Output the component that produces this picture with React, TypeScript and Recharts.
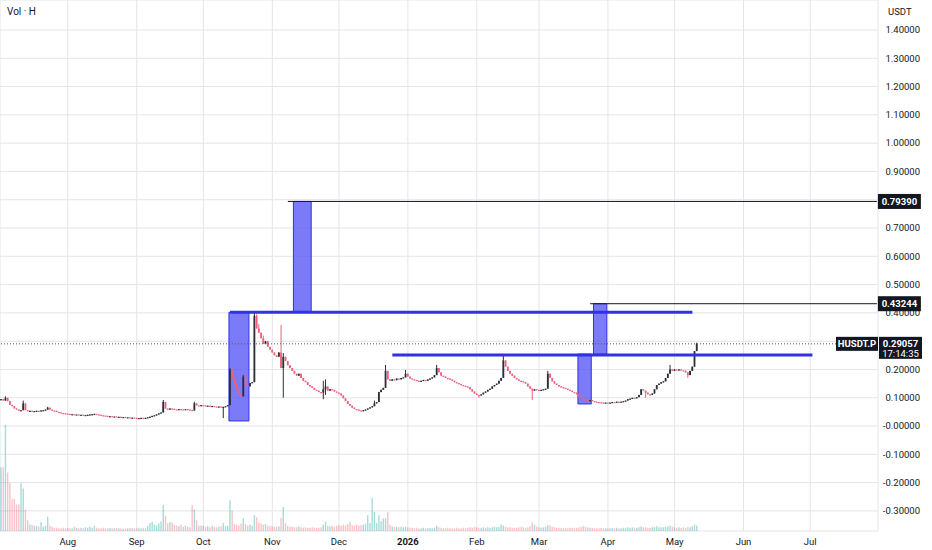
import { useEffect } from 'react';
import {
  ComposedChart,
  Bar,
  XAxis,
  YAxis,
  CartesianGrid,
  ReferenceArea,
  ReferenceLine,
} from 'recharts';

// day 1 = 2 Jul 2025, one candle per day
const FIRST_OPEN = 0.092;
const LAST_DAY = 395;

const julClose = [
  0.095, 0.09, 0.1, 0.088, 0.075, 0.07, 0.062, 0.058, 0.055, 0.056, 0.08, 0.056, 0.053, 0.054, 0.052,
  0.053, 0.054, 0.053, 0.055, 0.056, 0.058, 0.065, 0.058, 0.055, 0.054, 0.05, 0.048, 0.046, 0.045, 0.044,
];
const augClose = [
  0.043, 0.042, 0.042, 0.041, 0.041, 0.04, 0.04, 0.039, 0.039, 0.04, 0.041, 0.042, 0.043, 0.041, 0.04,
  0.038, 0.037, 0.036, 0.035, 0.035, 0.034, 0.034, 0.033, 0.033, 0.032, 0.032, 0.031, 0.031, 0.03, 0.03,
  0.029,
];
const sepClose = [
  0.028, 0.028, 0.029, 0.028, 0.029, 0.031, 0.033, 0.036, 0.038, 0.041, 0.045, 0.048, 0.085, 0.062, 0.058,
  0.062, 0.061, 0.059, 0.058, 0.06, 0.059, 0.058, 0.06, 0.058, 0.057, 0.055, 0.08, 0.073, 0.072, 0.074,
];
const octClose = [
  0.073, 0.071, 0.072, 0.07, 0.071, 0.069, 0.068, 0.069, 0.067, 0.068, 0.07, 0.074, 0.2, 0.17, 0.15,
  0.13, 0.115, 0.105, 0.175, 0.145, 0.14, 0.152, 0.155, 0.39, 0.345, 0.33, 0.31, 0.29, 0.3, 0.28, 0.27,
];
const novClose = [
  0.26, 0.25, 0.245, 0.26, 0.205, 0.245, 0.23, 0.215, 0.205, 0.195, 0.185, 0.178, 0.185, 0.17, 0.16,
  0.155, 0.145, 0.14, 0.135, 0.128, 0.125, 0.12, 0.118, 0.13, 0.14, 0.125, 0.13, 0.128, 0.122, 0.118,
];
const decClose = [
  0.115, 0.108, 0.098, 0.088, 0.078, 0.072, 0.065, 0.06, 0.058, 0.055, 0.054, 0.056, 0.058, 0.062, 0.066,
  0.07, 0.08, 0.085, 0.12, 0.128, 0.135, 0.195, 0.165, 0.16, 0.165, 0.162, 0.168, 0.165, 0.17, 0.172, 0.185,
];
const janClose = [
  0.175, 0.168, 0.165, 0.163, 0.16, 0.158, 0.16, 0.163, 0.16, 0.165, 0.168, 0.172, 0.18, 0.205, 0.19,
  0.178, 0.175, 0.17, 0.168, 0.165, 0.16, 0.155, 0.152, 0.148, 0.145, 0.142, 0.14, 0.138, 0.13, 0.122, 0.115,
];
const febClose = [
  0.11, 0.108, 0.112, 0.118, 0.122, 0.128, 0.132, 0.14, 0.145, 0.15, 0.16, 0.17, 0.232, 0.21, 0.195,
  0.185, 0.178, 0.17, 0.165, 0.16, 0.158, 0.155, 0.15, 0.14, 0.132, 0.125, 0.13, 0.128,
];
const marClose = [
  0.127, 0.128, 0.13, 0.132, 0.185, 0.17, 0.158, 0.15, 0.145, 0.14, 0.137, 0.135, 0.132, 0.128, 0.125,
  0.12, 0.118, 0.112, 0.105, 0.098, 0.093, 0.092, 0.09, 0.092, 0.088, 0.086, 0.085, 0.084, 0.083, 0.082, 0.083,
];
const aprClose = [
  0.082, 0.083, 0.085, 0.084, 0.086, 0.085, 0.086, 0.088, 0.09, 0.095, 0.097, 0.1, 0.098, 0.102, 0.11,
  0.13, 0.125, 0.118, 0.112, 0.11, 0.115, 0.13, 0.145, 0.15, 0.155, 0.158, 0.17, 0.185, 0.2, 0.195,
];
const mayClose = [0.2, 0.198, 0.2, 0.197, 0.196, 0.19, 0.18, 0.195, 0.21, 0.265, 0.29057];

// wicks that stick out past the body: day -> price
const wickHigh: Record<number, number> = {
  3: 0.105, 11: 0.09, 22: 0.068, 74: 0.092, 88: 0.086, 104: 0.205, 110: 0.18, 115: 0.4, 116: 0.395,
  117: 0.36, 119: 0.32, 127: 0.357, 128: 0.258, 146: 0.16, 147: 0.165, 169: 0.09, 174: 0.216, 183: 0.198,
  197: 0.216, 227: 0.25, 247: 0.195, 302: 0.216, 314: 0.295,
};
const wickLow: Record<number, number> = {
  101: 0.028, 128: 0.1, 146: 0.095, 147: 0.11, 216: 0.1, 240: 0.092, 291: 0.1, 310: 0.17,
};

// volume (M)
const julVol = [12, 12, 20, 11, 9, 6, 6, 5, 5, 9, 8, 4, 2, 1.2, 1.2, 1, 1, 0.8, 1.7, 0.8, 1, 2.7, 1, 0.8, 0.6, 0.6, 0.5, 0.5, 0.6, 0.5];
const augVol = [0.6, 0.5, 0.5, 0.8, 0.6, 0.5, 0.6, 0.5, 0.7, 0.6, 0.8, 0.6, 1, 0.6, 0.5, 0.5, 0.6, 0.5, 0.5, 0.6, 0.5, 0.5, 0.6, 0.5, 0.5, 0.4, 0.5, 0.5, 0.6, 0.5, 0.5];
const sepVol = [0.5, 0.6, 0.5, 0.6, 0.5, 1, 1.5, 1.7, 1.2, 1, 1.4, 1.8, 4.9, 2.9, 1.5, 1.7, 1.6, 1.2, 1, 0.9, 1.2, 0.8, 1, 0.8, 0.7, 4.9, 4.1, 2, 1, 1];
const octVol = [1, 0.8, 0.9, 0.7, 1, 0.8, 0.7, 0.8, 0.9, 1.5, 0.9, 1, 5.8, 3.8, 1.3, 1.2, 1, 1.4, 2.4, 1.3, 1, 1.2, 1, 3, 2.6, 1.6, 1.4, 1.2, 1.3, 1, 0.9];
const novVol = [0.9, 0.8, 0.8, 0.9, 2.5, 4.5, 1.5, 1, 0.8, 0.8, 0.7, 0.7, 0.9, 0.7, 0.6, 0.7, 0.6, 0.6, 0.7, 0.6, 0.6, 0.6, 0.7, 1.2, 1.7, 1, 0.9, 1, 0.8, 1];
const decVol = [1.1, 1, 1.2, 1.1, 1.3, 1.7, 1.1, 1, 1.2, 1, 1.1, 1.2, 1.4, 3, 1.5, 6.2, 3.6, 1.5, 3, 1.8, 2.4, 2.4, 3.6, 1.2, 0.9, 0.8, 0.8, 0.7, 0.8, 0.7, 0.8];
const janVol = [0.7, 0.6, 0.6, 0.5, 0.6, 0.5, 0.5, 0.6, 0.5, 0.5, 0.6, 0.5, 0.6, 1, 0.7, 0.6, 0.5, 0.5, 0.6, 0.5, 0.5, 0.5, 0.6, 0.5, 0.5, 0.6, 0.5, 0.6, 0.7, 0.6, 0.8];
const febVol = [0.7, 0.6, 0.6, 0.7, 0.6, 0.7, 0.6, 0.7, 0.8, 0.7, 0.8, 1.2, 1, 0.8, 0.7, 0.7, 0.6, 0.6, 0.6, 0.7, 0.8, 0.7, 0.6, 0.7, 0.9, 1.6, 1.2, 0.8];
const marVol = [0.7, 0.6, 0.7, 0.8, 1.1, 1.1, 0.8, 0.7, 0.6, 0.6, 0.6, 0.5, 0.6, 0.5, 0.6, 0.6, 0.5, 0.6, 0.7, 0.8, 0.9, 0.8, 0.7, 0.6, 0.6, 0.5, 0.5, 0.5, 0.6, 0.5, 0.5];
const aprVol = [0.5, 0.5, 0.6, 0.5, 0.6, 0.5, 0.5, 0.6, 0.6, 0.7, 0.6, 0.7, 0.6, 0.6, 0.7, 0.9, 0.7, 0.7, 0.6, 0.6, 0.7, 0.8, 0.9, 0.7, 0.7, 0.7, 0.8, 0.9, 1, 0.8];
const mayVol = [0.7, 0.6, 0.7, 0.6, 0.7, 0.6, 0.8, 0.7, 0.9, 1.2, 1];

const monthTicks = [31, 62, 92, 123, 153, 184, 215, 243, 274, 304, 335, 365];
const monthLabels = ['Aug', 'Sep', 'Oct', 'Nov', 'Dec', '2026', 'Feb', 'Mar', 'Apr', 'May', 'Jun', 'Jul'];
const priceTicks = [-0.3, -0.2, -0.1, 0, 0.1, 0.2, 0.3, 0.4, 0.5, 0.6, 0.7, 0.8, 0.9, 1.0, 1.1, 1.2, 1.3, 1.4];
// tick labels hidden behind the price tags
const coveredTicks = [0.3, 0.8];

const UP = '#2a2e39';
const DOWN = '#f0607a';
const BLUE = '#3131e8';
const FONT = 'Roboto, "DejaVu Sans", sans-serif';

const closes = [
  ...julClose, ...augClose, ...sepClose, ...octClose, ...novClose, ...decClose,
  ...janClose, ...febClose, ...marClose, ...aprClose, ...mayClose,
];
const vols = [
  ...julVol, ...augVol, ...sepVol, ...octVol, ...novVol, ...decVol,
  ...janVol, ...febVol, ...marVol, ...aprVol, ...mayVol,
];

const rows: any[] = [];
for (let d = 1; d <= LAST_DAY; d++) {
  const i = d - 1;
  if (i < closes.length) {
    const open = i === 0 ? FIRST_OPEN : closes[i - 1];
    const close = closes[i];
    const high = Math.max(open, close, wickHigh[d] ?? -1);
    const low = Math.min(open, close, wickLow[d] ?? 9);
    rows.push({ day: d, open, close, high, low, vol: vols[i] });
  } else {
    rows.push({ day: d });
  }
}

function Candle(props: any) {
  const { x, y, width, height, payload } = props;
  if (payload.high == null) return null;
  const top = Math.min(y, y + height);
  const h = Math.abs(height);
  const span = payload.high - payload.low || 1;
  const py = (v: number) => top + ((payload.high - v) / span) * h;
  const up = payload.close >= payload.open;
  const color = up ? UP : DOWN;
  const cx = x + width / 2;
  const bTop = py(Math.max(payload.open, payload.close));
  const bBot = py(Math.min(payload.open, payload.close));
  return (
    <g>
      <line x1={cx} x2={cx} y1={top} y2={top + h} stroke={color} strokeWidth={1} />
      <rect x={cx - 0.9} y={bTop} width={1.8} height={Math.max(1.2, bBot - bTop)} fill={color} />
    </g>
  );
}

function VolBar(props: any) {
  const { x, y, width, height, payload } = props;
  if (payload.vol == null) return null;
  const up = payload.close >= payload.open;
  return (
    <rect
      x={x + width / 2 - 0.7}
      y={y}
      width={1.4}
      height={height}
      fill={up ? 'rgba(38,166,154,0.4)' : 'rgba(242,54,69,0.3)'}
    />
  );
}

function PriceTick(props: any) {
  const { x, y, payload } = props;
  const v = payload.value;
  if (coveredTicks.includes(v)) return null;
  const txt = v <= 0 ? '-' + Math.abs(v).toFixed(5) : v.toFixed(5);
  return (
    <text x={x + 42} y={y} dy="0.35em" textAnchor="end" fontSize={9.5} fill="#131722" fontFamily={FONT}>
      {txt}
    </text>
  );
}

function DateTick(props: any) {
  const { x, y, payload } = props;
  const i = monthTicks.indexOf(payload.value);
  const label = monthLabels[i];
  return (
    <text
      x={x}
      y={y}
      dy="0.71em"
      textAnchor="middle"
      fontSize={9.5}
      fill="#131722"
      fontWeight={label === '2026' ? 700 : 400}
      fontFamily={FONT}
    >
      {label}
    </text>
  );
}

function PriceTag(props: any) {
  const { viewBox, text } = props;
  const right = viewBox.x + viewBox.width;
  const cy = viewBox.y;
  return (
    <g>
      <rect x={right + 1} y={cy - 7.5} width={43} height={15} fill="#131722" />
      <text x={right + 22.5} y={cy} dy="0.35em" textAnchor="middle" fontSize={9.5} fontWeight={700} fill="#fff" fontFamily={FONT}>
        {text}
      </text>
    </g>
  );
}

function LastPriceTag(props: any) {
  const { viewBox } = props;
  const right = viewBox.x + viewBox.width;
  const cy = viewBox.y;
  return (
    <g>
      <rect x={right - 42} y={cy - 7} width={42} height={14} fill="#131722" />
      <text x={right - 21} y={cy} dy="0.35em" textAnchor="middle" fontSize={9.5} fontWeight={700} fill="#fff" fontFamily={FONT}>
        HUSDT.P
      </text>
      <rect x={right + 1} y={cy - 7} width={43} height={22} fill="#131722" />
      <text x={right + 22.5} y={cy} dy="0.35em" textAnchor="middle" fontSize={9.5} fontWeight={700} fill="#fff" fontFamily={FONT}>
        0.29057
      </text>
      <text x={right + 22.5} y={cy + 10} dy="0.35em" textAnchor="middle" fontSize={9.5} fill="#fff" fontFamily={FONT}>
        17:14:35
      </text>
    </g>
  );
}

export default function App() {
  useEffect(() => {
    document.body.style.margin = '0';
  }, []);

  return (
    <div style={{ position: 'relative', width: 932, height: 550, background: '#fff', fontFamily: FONT }}>
      <ComposedChart
        width={932}
        height={550}
        data={rows}
        margin={{ top: 0, right: 0, bottom: 0, left: 0 }}
        barCategoryGap={0}
        barGap={-2}
      >
        <CartesianGrid stroke="#e3e5ea" yAxisId="price" />
        <XAxis
          dataKey="day"
          type="category"
          ticks={monthTicks}
          interval={0}
          height={19}
          axisLine={false}
          tickLine={false}
          tickSize={0}
          tickMargin={7}
          tick={<DateTick />}
        />
        <YAxis
          yAxisId="price"
          orientation="right"
          type="number"
          domain={[-0.371, 1.506]}
          ticks={priceTicks}
          allowDataOverflow
          width={54}
          axisLine={false}
          tickLine={false}
          tickSize={0}
          tickMargin={0}
          tick={<PriceTick />}
        />
        <YAxis yAxisId="vol" hide domain={[0, 100]} />

        <Bar yAxisId="vol" dataKey="vol" barSize={2} shape={<VolBar />} isAnimationActive={false} />
        <Bar
          yAxisId="price"
          dataKey={(r: any) => (r.high == null ? null : [r.low, r.high])}
          barSize={2}
          shape={<Candle />}
          isAnimationActive={false}
        />

        <ReferenceLine
          yAxisId="price"
          y={0.29057}
          stroke="#555"
          strokeDasharray="1 2"
          label={(p: any) => <LastPriceTag {...p} />}
        />
        <ReferenceLine
          yAxisId="price"
          segment={[{ x: 130, y: 0.7939 }, { x: 395, y: 0.7939 }]}
          stroke="#131722"
          strokeWidth={1}
          label={(p: any) => <PriceTag {...p} text="0.79390" />}
        />
        <ReferenceLine
          yAxisId="price"
          segment={[{ x: 266, y: 0.43244 }, { x: 395, y: 0.43244 }]}
          stroke="#131722"
          strokeWidth={1}
          label={(p: any) => <PriceTag {...p} text="0.43244" />}
        />
        <ReferenceLine
          yAxisId="price"
          segment={[{ x: 104, y: 0.402 }, { x: 312, y: 0.402 }]}
          stroke={BLUE}
          strokeWidth={3}
        />
        <ReferenceLine
          yAxisId="price"
          segment={[{ x: 177, y: 0.251 }, { x: 366, y: 0.251 }]}
          stroke={BLUE}
          strokeWidth={3}
        />

        <ReferenceArea yAxisId="price" x1={104} x2={112} y1={0.018} y2={0.402} fill="#5a5af5" fillOpacity={0.8} stroke={BLUE} />
        <ReferenceArea yAxisId="price" x1={133} x2={140} y1={0.405} y2={0.7939} fill="#5a5af5" fillOpacity={0.8} stroke={BLUE} />
        <ReferenceArea yAxisId="price" x1={261} x2={266} y1={0.078} y2={0.2545} fill="#5a5af5" fillOpacity={0.8} stroke={BLUE} />
        <ReferenceArea yAxisId="price" x1={268} x2={273} y1={0.2545} y2={0.43244} fill="#5a5af5" fillOpacity={0.8} stroke={BLUE} />
      </ComposedChart>
      <div style={{ position: 'absolute', left: 7, top: 6, fontSize: 10, color: '#131722' }}>Vol · H</div>
      <div style={{ position: 'absolute', left: 888, top: 6, fontSize: 9.5, color: '#131722' }}>USDT</div>
    </div>
  );
}
